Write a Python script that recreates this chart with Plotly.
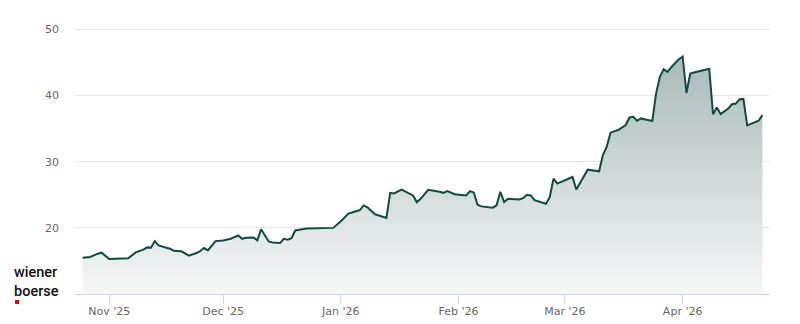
import plotly.graph_objects as go

dates = [
    "2025-10-25", "2025-10-27", "2025-10-29", "2025-10-30", "2025-11-01",
    "2025-11-05", "2025-11-06", "2025-11-08", "2025-11-10", "2025-11-11",
    "2025-11-12", "2025-11-13", "2025-11-14", "2025-11-17", "2025-11-18",
    "2025-11-20", "2025-11-22", "2025-11-24", "2025-11-25", "2025-11-26",
    "2025-11-27", "2025-11-29", "2025-12-01", "2025-12-03", "2025-12-05",
    "2025-12-06", "2025-12-07", "2025-12-09", "2025-12-10", "2025-12-11",
    "2025-12-13", "2025-12-14", "2025-12-16", "2025-12-17", "2025-12-18",
    "2025-12-19", "2025-12-20", "2025-12-23", "2025-12-30", "2026-01-01",
    "2026-01-03", "2026-01-06", "2026-01-07", "2026-01-08", "2026-01-10",
    "2026-01-13", "2026-01-14", "2026-01-15", "2026-01-17", "2026-01-20",
    "2026-01-21", "2026-01-22", "2026-01-24", "2026-01-27", "2026-01-28",
    "2026-01-29", "2026-01-31", "2026-02-03", "2026-02-04", "2026-02-05",
    "2026-02-06", "2026-02-07", "2026-02-10", "2026-02-11", "2026-02-12",
    "2026-02-13", "2026-02-14", "2026-02-17", "2026-02-18", "2026-02-19",
    "2026-02-20", "2026-02-21", "2026-02-24", "2026-02-25", "2026-02-26",
    "2026-02-27", "2026-03-01", "2026-03-03", "2026-03-04", "2026-03-07",
    "2026-03-10", "2026-03-11", "2026-03-12", "2026-03-13", "2026-03-15",
    "2026-03-17", "2026-03-18", "2026-03-19", "2026-03-20", "2026-03-21",
    "2026-03-24", "2026-03-25", "2026-03-26", "2026-03-27", "2026-03-28",
    "2026-03-29", "2026-03-31", "2026-04-01", "2026-04-02", "2026-04-03",
    "2026-04-04", "2026-04-08", "2026-04-09", "2026-04-10", "2026-04-11",
    "2026-04-13", "2026-04-14", "2026-04-15", "2026-04-16", "2026-04-17",
    "2026-04-18", "2026-04-21", "2026-04-22",
]
prices = [
    15.5, 15.6, 16.1, 16.25, 15.3,
    15.3, 15.4, 16.3, 16.7, 17.05,
    17.0, 18.0, 17.35, 16.85, 16.55,
    16.45, 15.8, 16.2, 16.5, 16.95,
    16.6, 18.0, 18.1, 18.35, 18.85,
    18.35, 18.5, 18.55, 18.1, 19.8,
    17.95, 17.8, 17.7, 18.35, 18.2,
    18.45, 19.6, 19.9, 20.0, 21.0,
    22.15, 22.7, 23.4, 23.1, 22.05,
    21.5, 25.3, 25.2, 25.8, 24.9,
    23.9, 24.4, 25.75, 25.45, 25.3,
    25.55, 25.1, 24.9, 25.55, 25.35,
    23.5, 23.25, 23.05, 23.4, 25.45,
    23.9, 24.4, 24.3, 24.5, 25.0,
    24.9, 24.2, 23.65, 24.65, 27.45,
    26.7, 27.2, 27.7, 25.8, 28.8,
    28.55, 31.0, 32.25, 34.4, 34.8,
    35.55, 36.7, 36.8, 36.2, 36.55,
    36.15, 40.3, 42.85, 44.0, 43.6,
    44.3, 45.5, 45.9, 40.4, 43.35,
    43.5, 44.05, 37.2, 38.2, 37.2,
    38.05, 38.7, 38.8, 39.45, 39.5,
    35.5, 36.2, 37.05,
]
tick_vals = ["2025-11-01", "2025-12-01", "2026-01-01", "2026-02-01", "2026-03-01", "2026-04-01"]
tick_text = ["Nov '25", "Dec '25", "Jan '26", "Feb '26", "Mar '26", "Apr '26"]
y_ticks = [20, 30, 40, 50]

fig = go.Figure()
fig.add_trace(go.Scatter(
    x=dates, y=prices, mode="lines",
    line=dict(color="#0f4a44", width=2),
    fill="tozeroy",
    fillgradient=dict(
        type="vertical",
        start=10, stop=46,
        colorscale=[[0, "rgb(246,247,247)"], [1, "rgb(168,186,184)"]],
    ),
    hoverinfo="skip",
))

# logo
logo_font = dict(family="Roboto", size=14.5, color="#111111", weight=500)
fig.add_annotation(text="wiener<br>boerse", xref="paper", yref="paper",
                   x=-0.0905, y=0.043, align="left",
                   xanchor="left", yanchor="middle", showarrow=False, font=logo_font)
fig.add_shape(type="rect", xref="paper", yref="paper",
              x0=(15 - 75) / 695, x1=(19 - 75) / 695,
              y0=(294 - 304) / 284, y1=(294 - 300) / 284,
              fillcolor="#e2001a", line=dict(width=0), layer="above")

fig.update_layout(
    width=800, height=324,
    margin=dict(l=75, r=30, t=10, b=30),
    paper_bgcolor="white", plot_bgcolor="white",
    showlegend=False,
    font=dict(family="DejaVu Sans", size=11, color="#666666"),
    xaxis=dict(
        type="date", automargin=False,
        range=["2025-10-23", "2026-04-24"],
        tickvals=tick_vals, ticktext=tick_text,
        showgrid=False, zeroline=False,
        showline=True, linecolor="#ccd6eb", linewidth=1,
        ticks="outside", ticklen=9, tickcolor="#ccd6eb", tickwidth=1,
        ticklabelstandoff=-2,
        tickfont=dict(size=11, color="#666666"),
    ),
    yaxis=dict(
        range=[10, 52.95], automargin=False,
        tickvals=y_ticks,
        showgrid=True, gridcolor="#e6e6e6", gridwidth=1,
        zeroline=False, showline=False,
        ticks="", ticklabelstandoff=15,
        tickfont=dict(size=11, color="#666666"),
    ),
)

fig.write_html("out.html")
